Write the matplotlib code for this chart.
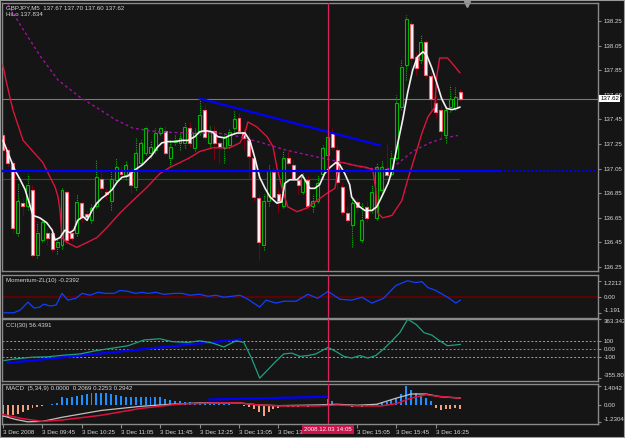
import matplotlib
matplotlib.use("Agg")
import matplotlib.pyplot as plt
from matplotlib import font_manager
from matplotlib.patches import Rectangle
from matplotlib.transforms import blended_transform_factory

W, H = 625, 438
BG = "#151515"
FG = "#d8d8d8"
EDGE = "#8a8a8a"
FS = 5

installed = {f.name for f in font_manager.fontManager.ttflist}
FONT = "Liberation Sans Narrow" if "Liberation Sans Narrow" in installed else "Liberation Sans"
if FONT == "Liberation Sans":
    FS = 4.4
plt.rcParams["font.family"] = [FONT, "DejaVu Sans"]

# GBPJPY M5, 3 Dec 2008 - one value per bar
opens = [137.32, 137.20, 137.10, 136.53, 136.77, 136.75, 136.88, 136.35, 136.47, 136.53,
         136.53, 136.41, 136.43, 136.86, 136.53, 136.53, 136.77, 136.68, 136.63, 136.75,
         136.97, 136.86, 136.79, 136.96, 137.04, 137.00, 137.02, 136.90, 137.10, 137.18,
         137.18, 137.20, 137.34, 137.36, 137.14, 137.27, 137.26, 137.26, 137.38, 137.22,
         137.35, 137.53, 137.26, 137.36, 137.26, 137.22, 137.24, 137.38, 137.46, 137.35,
         137.28, 137.14, 136.81, 136.43, 136.79, 137.02, 136.84, 136.75, 137.14, 137.08,
         136.96, 136.86, 136.96, 136.75, 136.79, 137.01, 137.16, 137.34, 137.20, 136.90,
         136.69, 136.59, 136.78, 136.47, 136.74, 136.71, 136.65, 136.88, 137.05, 137.01,
         137.14, 137.55, 137.89, 138.23, 137.96, 137.93, 138.08, 137.80, 137.58, 137.53,
         137.32, 137.55, 137.54, 137.67]
highs = [137.35, 137.22, 137.12, 136.93, 136.81, 137.01, 136.92, 136.62, 136.65, 136.57,
         136.57, 136.49, 136.89, 136.88, 136.57, 136.84, 136.79, 136.71, 136.77, 137.12,
         137.02, 136.89, 137.04, 137.14, 137.08, 137.12, 137.06, 137.30, 137.28, 137.40,
         137.28, 137.38, 137.40, 137.40, 137.28, 137.32, 137.34, 137.43, 137.43, 137.38,
         137.62, 137.57, 137.40, 137.40, 137.28, 137.35, 137.38, 137.53, 137.50, 137.38,
         137.35, 137.16, 136.84, 136.84, 137.08, 137.06, 136.89, 137.20, 137.20, 137.12,
         137.00, 137.02, 137.00, 136.84, 137.00, 137.24, 137.34, 137.38, 137.24, 136.94,
         136.75, 136.81, 136.81, 136.77, 136.79, 136.92, 137.10, 137.12, 137.26, 137.19,
         137.65, 137.93, 138.30, 138.26, 138.00, 138.14, 138.10, 137.84, 137.65, 137.57,
         137.55, 137.73, 137.71, 137.70]
lows = [137.19, 137.07, 136.53, 136.50, 136.67, 136.71, 136.33, 136.32, 136.45, 136.43,
        136.37, 136.36, 136.40, 136.45, 136.46, 136.50, 136.62, 136.63, 136.61, 136.73,
        136.85, 136.80, 136.71, 136.94, 136.99, 136.96, 136.85, 136.88, 137.08, 137.16,
        137.14, 137.18, 137.32, 137.16, 137.06, 137.24, 137.20, 137.22, 137.23, 137.19,
        137.32, 137.28, 137.23, 137.12, 137.10, 137.10, 137.22, 137.35, 137.34, 137.20,
        136.97, 136.79, 136.31, 136.39, 136.75, 136.79, 136.69, 136.73, 137.08, 136.96,
        136.84, 136.84, 136.71, 136.70, 136.77, 136.97, 137.14, 137.20, 136.88, 136.67,
        136.61, 136.41, 136.70, 136.45, 136.62, 136.69, 136.63, 136.85, 136.98, 136.99,
        137.12, 137.53, 137.77, 137.85, 137.81, 137.91, 137.79, 137.53, 137.46, 137.30,
        137.26, 137.51, 137.53, 137.60]
closes = [137.20, 137.10, 136.57, 136.79, 136.75, 136.92, 136.35, 136.53, 136.62, 136.49,
          136.40, 136.45, 136.88, 136.47, 136.49, 136.78, 136.66, 136.66, 136.73, 136.98,
          136.89, 136.84, 136.97, 137.06, 137.01, 137.08, 136.92, 137.18, 137.26, 137.38,
          137.23, 137.34, 137.38, 137.18, 137.23, 137.28, 137.30, 137.39, 137.26, 137.34,
          137.49, 137.31, 137.36, 137.26, 137.23, 137.31, 137.35, 137.45, 137.36, 137.30,
          137.15, 136.82, 136.45, 136.79, 137.04, 136.82, 136.79, 137.14, 137.10, 136.97,
          136.92, 136.98, 136.75, 136.79, 136.93, 137.22, 137.31, 137.23, 136.94, 136.70,
          136.63, 136.77, 136.74, 136.63, 136.65, 136.86, 137.06, 137.06, 137.00, 137.14,
          137.58, 137.88, 138.27, 137.95, 137.87, 138.08, 137.81, 137.62, 137.51, 137.36,
          137.53, 137.62, 137.63, 137.62]

# white moving average (bar, price)
ma_fast_bar = [0, 1.4, 2.4, 3.5, 4.5, 5.5, 6.1, 7.5, 8.9, 10.0, 10.6, 11.6, 12.6, 13.6, 14.4,
               15.2, 16.3, 17.1, 18.1, 19.1, 20.1, 21.1, 22.2, 23.2, 24.2, 25.4, 26.8, 28.3,
               29.3, 30.3, 31.3, 32.3, 33.5, 35.0, 36.4, 37.6, 39.0, 40.0, 41.1, 42.5, 43.7,
               45.1, 46.1, 47.6, 49.2, 50.2, 51.2, 52.2, 53.3, 54.3, 55.7, 56.7, 57.3, 58.3,
               59.8, 60.8, 61.4, 62.4, 63.4, 64.4, 65.4, 66.5, 67.7, 68.5, 69.5, 70.5, 70.9,
               72.2, 73.6, 75.0, 76.0, 77.0, 78.3, 79.3, 80.3, 81.3, 82.3, 83.3, 84.3, 85.4,
               86.2, 87.2, 88.2, 89.2, 90.2, 91.3, 92.3, 92.9]
ma_fast = [137.28, 137.14, 137.04, 136.96, 136.88, 136.75, 136.67, 136.65, 136.61, 136.55,
           136.47, 136.49, 136.55, 136.53, 136.55, 136.63, 136.66, 136.63, 136.71, 136.77,
           136.81, 136.84, 136.88, 136.94, 136.98, 136.99, 137.04, 137.08, 137.12, 137.16,
           137.22, 137.26, 137.27, 137.27, 137.28, 137.28, 137.31, 137.35, 137.36, 137.35,
           137.31, 137.30, 137.32, 137.34, 137.34, 137.28, 137.14, 136.98, 136.89, 136.82,
           136.77, 136.78, 136.93, 136.96, 136.96, 137.00, 136.96, 136.89, 136.89, 136.92,
           137.01, 137.06, 137.10, 137.08, 137.01, 136.92, 136.82, 136.75, 136.71, 136.71,
           136.74, 136.82, 136.93, 137.06, 137.26, 137.45, 137.67, 137.85, 137.96, 138.00,
           137.97, 137.87, 137.75, 137.62, 137.54, 137.53, 137.54, 137.55]

# HiLo line (crimson)
hilo_bar = [0, 0.6, 2.0, 4.1, 6.1, 8.1, 9.6, 10.6, 11.2, 11.6, 12.0, 13.0, 15.0, 17.1, 19.1,
            21.1, 23.8, 26.4, 29.3, 31.9, 33.9, 36.0, 38.0, 40.0, 42.7, 46.1, 48.2, 49.2,
            49.8, 51.6, 53.7, 54.9, 55.7, 56.7, 57.9, 59.8, 61.8, 63.8, 65.9, 67.5, 68.5,
            69.1, 71.1, 74.0, 75.2, 75.8, 76.2, 77.2, 79.1, 81.1, 82.3, 83.7, 85.2, 86.4,
            87.8, 88.2, 88.8, 90.4, 91.9, 92.9]
hilo = [137.89, 137.77, 137.53, 137.28, 137.19, 137.10, 136.98, 136.90, 136.82, 136.71,
        136.49, 136.45, 136.41, 136.45, 136.49, 136.57, 136.69, 136.79, 136.90, 137.01,
        137.06, 137.10, 137.14, 137.19, 137.22, 137.22, 137.26, 137.34, 137.43, 137.39,
        137.31, 137.23, 137.06, 136.90, 136.74, 136.70, 136.73, 136.79, 136.85, 136.89,
        137.10, 137.10, 137.08, 137.06, 137.04, 136.88, 136.69, 136.65, 136.67, 136.79,
        136.96, 137.14, 137.34, 137.47, 137.55, 137.80, 137.95, 137.95, 137.88, 137.83]

# slow moving average (purple dashes)
ma_slow_bar = [0, 0.8, 3.5, 7.5, 11.2, 15.7, 19.7, 22.8, 26.4, 31.3, 37.4, 43.7, 48.2, 51.8,
               57.7, 64.4, 69.1, 73.2, 77.2, 79.3, 83.3, 86.8, 89.8, 92.5]
ma_slow = [138.58, 138.40, 138.22, 137.97, 137.77, 137.63, 137.53, 137.45, 137.38, 137.35,
           137.34, 137.34, 137.31, 137.27, 137.20, 137.14, 137.10, 137.06, 137.04, 137.06,
           137.19, 137.26, 137.30, 137.32]

trend_bar = [40.0, 76.6]
trend_price = [137.62, 137.24]
support_price = 137.03
green_level = 136.965
bid = 137.62
price_ticks = [138.25, 138.05, 137.85, 137.65, 137.45, 137.25, 137.05, 136.85, 136.65, 136.45, 136.25]

# Momentum-ZL(10)
mom_bar = [0.2, 2.2, 3.5, 5.1, 6.3, 7.5, 8.3, 9.6, 10.8, 12.0, 13.2, 14.8, 16.1, 17.7, 19.3,
           20.9, 22.6, 23.8, 25.4, 27.0, 28.3, 29.5, 31.1, 32.7, 34.8, 36.4, 38.0, 40.0, 41.7,
           43.3, 44.9, 46.5, 48.2, 49.8, 52.2, 53.5, 55.5, 57.1, 59.6, 62.0, 64.0, 66.1, 68.5,
           70.9, 73.0, 75.0, 77.4, 79.9, 82.3, 83.9, 85.2, 86.4, 88.0, 90.4, 92.1, 93.0]
momentum = [-1.19, -1.19, -0.98, -0.39, -0.83, -0.76, -0.54, -0.68, -0.61, 0.27, -0.24, -0.10,
            0.27, 0.13, 0.35, 0.27, 0.27, 0.49, 0.42, 0.27, 0.35, 0.27, 0.35, 0.20, 0.27, 0.27,
            0.13, 0.20, 0.05, 0.13, -0.02, 0.05, 0.13, -0.17, -0.76, -0.24, -0.46, -0.32, -0.32,
            0.20, -0.10, 0.42, -0.17, -0.24, -0.02, -0.46, -0.10, 0.86, 1.22, 1.08, 1.15, 0.71,
            0.49, -0.02, -0.46, -0.24]

# CCI(30)
cci_bar = [0.2, 2.6, 5.9, 9.1, 12.4, 15.7, 18.9, 22.2, 25.4, 28.7, 31.9, 34.4, 37.6, 40.0,
           42.5, 44.9, 47.4, 49.0, 50.6, 52.2, 53.9, 55.5, 57.1, 58.7, 60.4, 62.0, 63.6, 66.1,
           67.7, 69.3, 70.9, 72.6, 74.2, 75.8, 77.4, 79.1, 80.7, 82.3, 84.0, 85.6, 87.2, 88.8,
           90.4, 92.1, 93.0]
cci = [-140, -120, -100, -95, -75, -60, -20, 10, 40, 110, 125, 90, 80, 100, 75, 25, 100, 80,
       -120, -355.8, -250, -150, -60, -50, -90, -80, -60, 20, -30, -90, -110, -80, -110, -80,
       0, 100, 200, 363.3, 300, 200, 170, 100, 40, 50, 56.4]
cci_trend_bar = [1.0, 48.2]
cci_trend = [-170, 118]

# MACD(5,34,9) histogram, one value per bar
macd_hist = [-0.90, -0.85, -0.75, -0.65, -0.50, -0.35, -0.25, -0.15, -0.05, 0.02,
             0.05, 0.15, 0.55, 0.50, 0.60, 0.65, 0.75, 0.80, 0.85, 0.90,
             0.85, 0.85, 0.80, 0.70, 0.65, 0.60, 0.55, 0.55, 0.60, 0.60,
             0.60, 0.60, 0.55, 0.40, 0.35, 0.30, 0.28, 0.25, 0.20, 0.15,
             0.12, 0.10, 0.15, 0.10, 0.08, 0.05, 0.05, 0.03, 0.00, -0.05,
             -0.15, -0.30, -0.55, -0.80, -0.50, -0.30, -0.20, -0.10, -0.15, -0.15,
             -0.12, -0.10, -0.12, -0.10, -0.05, 0.10, 0.40, 0.30, 0.10, -0.05,
             -0.10, -0.12, -0.10, -0.12, -0.10, -0.05, 0.10, 0.20, 0.25, 0.35,
             0.50, 0.80, 1.40, 1.10, 0.90, 0.70, 0.50, 0.30, -0.20, -0.35,
             -0.30, -0.30, -0.25, -0.30]
macd_gray_bar = [0, 2.5, 5, 8, 12, 20, 28, 34, 40, 48, 52, 56, 64, 68, 72, 76, 80, 83, 86, 89, 93]
macd_gray = [-0.8, -1.05, -1.23, -1.2, -0.9, -0.4, -0.1, 0.05, 0.15, 0.15, 0.0, -0.05, 0.0, 0.05,
             -0.02, 0.05, 0.5, 0.8, 0.8, 0.6, 0.5]
macd_red_bar = [0, 4, 8, 12, 20, 28, 36, 44, 48, 52, 56, 64, 68, 72, 77, 80, 83, 86, 88, 93]
macd_red = [-0.7, -1.0, -1.2, -1.1, -0.75, -0.25, 0.07, 0.15, 0.15, 0.0, -0.07, -0.07, 0.0,
            -0.07, -0.07, 0.1, 0.5, 0.75, 0.65, 0.5]
macd_trend_bar = [42.0, 66.0]
macd_trend = [0.4, 0.6]

time_ticks = [0, 8, 16, 24, 32, 40, 48, 56, 64, 72, 80, 88]
time_labels = ["3 Dec 2008", "3 Dec 09:45", "3 Dec 10:25", "3 Dec 11:05", "3 Dec 11:45",
               "3 Dec 12:25", "3 Dec 13:05", "3 Dec 13:45", "", "3 Dec 15:05",
               "3 Dec 15:45", "3 Dec 16:25"]
cursor_bar = 66.1
cursor_label = "2008.12.03 14:05"

fig = plt.figure(figsize=(W / 100, H / 100), dpi=100, facecolor=BG)


def panel(top, bottom):
    ax = fig.add_axes([2 / W, 1 - bottom / H, 596 / W, (bottom - top) / H])
    ax.set_facecolor(BG)
    for s in ax.spines.values():
        s.set_color(EDGE)
        s.set_linewidth(1)
    ax.set_xlim(-0.2, 121)
    ax.yaxis.tick_right()
    ax.tick_params(axis="y", colors=FG, labelsize=FS, length=2, pad=2)
    ax.tick_params(axis="y", color=EDGE)
    ax.set_xticks([])
    ax.axvline(cursor_bar, color="#e0205a", lw=0.9, zorder=6)
    return ax


def edge_labels(ax, values, labels):
    ax.set_yticks(values)
    ax.set_yticklabels(labels)
    tl = ax.get_yticklabels()
    tl[0].set_va("top")
    tl[-1].set_va("bottom")


def panel_title(ax, text):
    ax.text(0.006, 0.94, text, transform=ax.transAxes, va="top", fontsize=FS, color=FG)


# ---- main price panel ----
ax = panel(3, 271)
ax.set_ylim(136.218, 138.397)
ax.set_yticks(price_ticks)
ax.set_yticklabels([f"{p:.2f}" for p in price_ticks])

ax.axhline(bid, color="#7a7a7a", lw=0.8, zorder=1)
ax.plot([-0.2, 92.7], [green_level, green_level], color="#0a6a0a", lw=0.8, zorder=1)
ax.plot([-0.2, 101], [support_price, support_price], color="#0000ff", lw=1.6, zorder=5)
ax.plot([101, 121], [support_price, support_price], color="#0000ff", lw=1.4, ls=(0, (1, 1)), zorder=5)
ax.plot(trend_bar, trend_price, color="#0000ff", lw=1.6, zorder=5)

for i, (o, h, l, c) in enumerate(zip(opens, highs, lows, closes)):
    if c >= o:
        ax.vlines(i, l, h, color="#00b400", lw=0.8, linestyles=(0, (1, 1)), zorder=2)
        ax.bar(i, c - o, bottom=o, width=0.6, facecolor=BG, edgecolor="#00b400", lw=0.8, zorder=2)
    else:
        ax.vlines(i, l, h, color="#7a0010", lw=0.8, zorder=2)
        ax.bar(i, c - o, bottom=o, width=0.6, facecolor="white", edgecolor="#ff5a70", lw=0.8, zorder=2)

ax.plot(ma_slow_bar, ma_slow, color="#a010a0", lw=1, ls=(0, (2, 2)), zorder=3)
ax.plot(hilo_bar, hilo, color="#dc143c", lw=1, zorder=3)
ax.plot(ma_fast_bar, ma_fast, color="#f2f2f2", lw=1.2, zorder=4)
ax.plot([94.3], [0.995], marker="v", ms=4, color="#9a9a9a", transform=blended_transform_factory(ax.transData, ax.transAxes), clip_on=False)

ax.text(0.006, 0.993, "GBPJPY,M5  137.67 137.70 137.60 137.62", transform=ax.transAxes,
        va="top", ha="left", fontsize=FS, color=FG)
ax.text(0.006, 0.966, "HiLo 137.834", transform=ax.transAxes, va="top", ha="left",
        fontsize=FS, color=FG)
ax.text(1.004, bid, f"{bid:.2f}", transform=ax.get_yaxis_transform(), va="center",
        ha="left", fontsize=FS, color="black", zorder=10,
        bbox=dict(boxstyle="square,pad=0.2", facecolor="white", edgecolor="none"))

# ---- momentum ----
ax = panel(275, 318)
ax.set_ylim(-1.58, 1.65)
edge_labels(ax, [1.2212, 0, -1.191], ["1.2212", "0.00", "-1.191"])
ax.axhline(0, color="#6a0000", lw=1.2, zorder=1)
ax.plot(mom_bar, momentum, color="#1040ff", lw=0.9, zorder=3)
panel_title(ax, "Momentum-ZL(10) -0.2392")

# ---- CCI ----
ax = panel(319, 381)
ax.set_ylim(-390, 366)
edge_labels(ax, [363.3425, 100, 0, -100, -355.809],
            ["363.3425", "100", "0.00", "-100", "-355.809"])
for lvl in (100, -100):
    ax.axhline(lvl, color="#a0a0a0", lw=0.7, ls=(0, (2, 2)), zorder=1)
ax.axhline(0, color="#8080c0", lw=0.7, ls=(0, (2, 2)), zorder=1)
ax.plot(cci_trend_bar, cci_trend, color="#0000ff", lw=1.6, zorder=2)
ax.plot(cci_bar, cci, color="#20a080", lw=0.9, zorder=3)
panel_title(ax, "CCI(30) 56.4391")

# ---- MACD ----
ax = panel(384, 424)
ax.set_ylim(-1.39, 1.53)
edge_labels(ax, [1.4042, 0, -1.2304], ["1.4042", "0.00", "-1.2304"])
bars = range(len(macd_hist))
ax.bar(bars, macd_hist, width=0.4,
       color=["#2090ff" if v >= 0 else "#f4a07a" for v in macd_hist], zorder=2)
ax.plot(macd_trend_bar, macd_trend, color="#0000ff", lw=1.6, zorder=3)
ax.plot(macd_gray_bar, macd_gray, color="#c0c0c0", lw=0.9, zorder=4)
ax.plot(macd_red_bar, macd_red, color="#e0103c", lw=1.1, zorder=4)
panel_title(ax, "MACD  (5,34,9) 0.0000  0.2069 0.2253 0.2942")

ax.set_xticks(time_ticks)
ax.set_xticklabels(time_labels, ha="left", fontsize=FS, color=FG)
ax.tick_params(axis="x", length=3, color=EDGE, pad=1.5)
tr = blended_transform_factory(ax.transData, ax.transAxes)
ax.text(cursor_bar, -0.07, cursor_label, transform=tr, ha="center", va="top", fontsize=FS,
        color="white", zorder=10,
        bbox=dict(boxstyle="square,pad=0.3", facecolor="#d0104a", edgecolor="none"))

fig.patches.append(Rectangle((0, 0), 1, 1, transform=fig.transFigure, fill=False,
                             edgecolor="#9a9a9a", lw=1.5))

fig.savefig("out.png", dpi=100, facecolor=BG)
